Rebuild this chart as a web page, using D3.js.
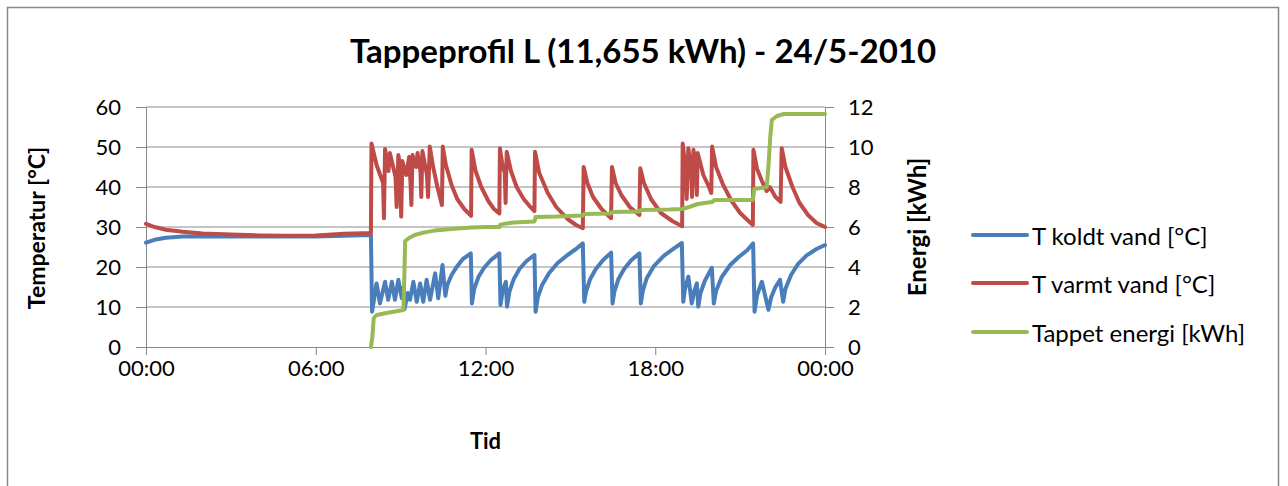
<!DOCTYPE html>
<html><head><meta charset="utf-8">
<script src="https://cdn.jsdelivr.net/npm/d3@7"></script>
<style>
html,body{margin:0;padding:0;background:#fff;}
svg{display:block;}
text{font-family:Lato,"Open Sans",sans-serif;fill:#000;}
</style></head>
<body>
<svg id="c" width="1288" height="486"></svg>
<script>
// ---- data (time in hours of the day) ----
const titleText = "Tappeprofil L (11,655 kWh) - 24/5-2010";
const tidTicks = [0, 6, 12, 18, 24];
const tidLabels = ["00:00", "06:00", "12:00", "18:00", "00:00"];
const tempTicks = [0, 10, 20, 30, 40, 50, 60];
const energiTicks = [0, 2, 4, 6, 8, 10, 12];
const seriesNames = ["T koldt vand [°C]", "T varmt vand [°C]", "Tappet energi [kWh]"];

const koldtVand = [
 [0,26.1],[0.3,26.8],[0.7,27.3],[1.3,27.6],[2,27.7],[4,27.6],[6,27.6],[7,27.8],[7.95,28],
 [7.99,8.8],[8.15,15.9],[8.27,10.9],[8.45,16.3],[8.56,11.8],[8.69,16.3],[8.8,11.8],[8.92,16.8],
 [9.04,12.2],[9.1,15],[9.14,9.5],[9.25,13.5],[9.33,11.8],[9.45,16.3],[9.57,11.3],[9.69,15.9],
 [9.8,11.3],[9.92,16.8],[10.04,11.8],[10.22,18.4],[10.33,12.2],[10.48,20.5],[10.58,12.8],
 [10.65,15.5],[10.8,18],[11,20.2],[11.2,22],[11.48,23.4],[11.52,10.9],[11.6,14.5],[11.75,17.5],
 [11.95,19.8],[12.2,21.8],[12.49,23.4],[12.53,10.5],[12.62,14.5],[12.72,16.3],[12.76,10.1],
 [12.85,14],[13,17],[13.2,19.5],[13.45,21.5],[13.73,23],[13.77,8.8],[13.85,12.5],[14,15.5],
 [14.25,18.5],[14.55,21],[14.9,23],[15.2,24.5],[15.44,25.9],[15.49,11.3],[15.56,14],[15.7,17],
 [15.9,19.5],[16.15,21.7],[16.44,23.6],[16.49,10.9],[16.56,14],[16.7,17],[16.9,19.5],
 [17.15,21.7],[17.44,23.4],[17.49,10.9],[17.56,14],[17.7,17.2],[17.95,20.2],[18.3,22.8],
 [18.65,24.6],[18.94,26],[18.99,11.3],[19.05,14.5],[19.17,17.6],[19.29,10.9],[19.38,14],
 [19.47,15.9],[19.52,10.1],[19.6,13.5],[19.75,16.5],[20,19.8],[20.07,10.9],[20.15,14],
 [20.35,17.5],[20.65,20.5],[20.95,22.5],[21.25,24.2],[21.46,25.9],[21.51,8.8],[21.6,13],
 [21.77,16.3],[22,9.3],[22.1,12.5],[22.25,15],[22.41,16.8],[22.52,11.3],[22.6,14.5],
 [22.8,18],[23.05,20.8],[23.35,22.9],[23.7,24.5],[24,25.5]
];

const varmtVand = [
 [0,30.8],[0.3,30],[0.7,29.3],[1.3,28.8],[2,28.4],[3,28.1],[4,27.9],[5,27.8],[6,27.9],[7,28.3],[7.95,28.5],
 [7.97,50.9],[8.15,45.5],[8.38,41],[8.41,32.2],[8.45,49.5],[8.57,44],[8.62,48.5],[8.82,42.5],
 [8.86,35],[8.92,48],[8.99,45],[9.02,32.6],[9.06,46.5],[9.2,43],[9.3,47.5],[9.35,41],[9.38,35.5],
 [9.42,48],[9.55,45],[9.6,48.5],[9.7,44],[9.73,37.5],[9.77,49],[9.93,43],[9.97,37.5],[10.03,50.1],
 [10.15,45],[10.3,40],[10.46,35.5],[10.49,50.1],[10.6,45.5],[10.8,40.5],[11,37],[11.25,34.5],
 [11.49,32.8],[11.51,49.3],[11.65,44],[11.85,40],[12.1,36.5],[12.3,34.5],[12.49,33.4],[12.51,49.7],
 [12.6,45.5],[12.68,43.5],[12.71,36],[12.75,48.8],[12.9,44],[13.1,40],[13.35,37],[13.55,35.3],
 [13.73,34],[13.75,48.8],[13.9,43.5],[14.2,38.5],[14.5,35],[14.9,32],[15.2,30.5],[15.44,29.7],
 [15.47,45],[15.6,41],[15.8,37.5],[16.1,34.5],[16.44,32.2],[16.47,45],[16.6,41],[16.8,38],
 [17.1,35],[17.44,33],[17.47,44.7],[17.6,41],[17.85,37],[18.2,33.5],[18.6,31.5],[18.95,30.2],
 [18.97,50.9],[19.08,44],[19.11,37],[19.17,49.7],[19.27,44],[19.3,37.5],[19.35,49.3],[19.44,44.5],
 [19.47,38],[19.5,48.5],[19.7,43],[19.9,40],[19.98,38.5],[20.01,50.1],[20.15,45],[20.4,40.5],
 [20.7,36.5],[21,33.5],[21.25,31.8],[21.45,30.5],[21.47,49.3],[21.6,44.5],[21.8,41],[21.94,39],
 [22.05,40],[22.25,37.5],[22.43,36.3],[22.47,49.7],[22.6,45],[22.85,40],[23.1,36],[23.4,33],
 [23.7,31],[24,30]
];

const tappetEnergi = [
 [7.95,0],[8,0.5],[8.05,1.45],[8.15,1.6],[8.5,1.7],[8.9,1.8],[9.1,1.85],[9.13,3.5],[9.16,5.3],
 [9.3,5.45],[9.5,5.6],[9.8,5.72],[10.2,5.82],[10.6,5.88],[11,5.92],[11.5,5.97],[12,6],[12.49,6],
 [12.52,6.12],[12.75,6.18],[13,6.22],[13.73,6.27],[13.77,6.5],[14.5,6.52],[15.44,6.58],
 [15.48,6.65],[16.44,6.68],[16.48,6.75],[17.44,6.78],[17.48,6.85],[18.5,6.87],[18.95,6.9],
 [19.2,7],[19.5,7.15],[20,7.25],[20.1,7.35],[21.45,7.35],[21.5,7.9],[21.94,8],[22,9],
 [22.06,10.4],[22.12,11.35],[22.3,11.55],[22.55,11.65],[24,11.655]
];

const colors = ["#4A7EBB", "#BE4B48", "#98B954"];

// ---- drawing ----
const svg = d3.select("#c");
svg.append("rect").attr("x",7.5).attr("y",7.5).attr("width",1271).attr("height",520)
  .attr("fill","#fff").attr("stroke","#868686").attr("stroke-width",1.5);

const x = d3.scaleLinear().domain([0,24]).range([146,825]);
const yT = d3.scaleLinear().domain([0,60]).range([347,107]);
const yE = d3.scaleLinear().domain([0,12]).range([347,107]);

// gridlines
svg.append("g").selectAll("line").data(tempTicks.filter(d=>d>0)).join("line")
  .attr("x1",x(0)).attr("x2",x(24)).attr("y1",d=>yT(d)).attr("y2",d=>yT(d))
  .attr("stroke","#8c8c8c").attr("stroke-width",1);

function styleAxis(g){
  g.select(".domain").attr("stroke","#868686").attr("stroke-width",1);
  g.selectAll(".tick line").attr("stroke","#868686");
  g.selectAll(".tick text").attr("font-size",22).attr("font-family","Lato").attr("fill","#000");
}

svg.append("g").attr("transform",`translate(${x(0)},0)`)
  .call(d3.axisLeft(yT).tickValues(tempTicks).tickSize(10).tickSizeOuter(0).tickPadding(15))
  .call(styleAxis);
svg.append("g").attr("transform",`translate(${x(24)},0)`)
  .call(d3.axisRight(yE).tickValues(energiTicks).tickSize(9).tickSizeOuter(0).tickPadding(14))
  .call(styleAxis);
svg.append("g").attr("transform",`translate(0,${yT(0)})`)
  .call(d3.axisBottom(x).tickValues(tidTicks).tickFormat((d,i)=>tidLabels[i]).tickSize(8).tickSizeOuter(0).tickPadding(5))
  .call(styleAxis);

// series
const lineT = d3.line().x(d=>x(d[0])).y(d=>yT(d[1]));
const lineE = d3.line().x(d=>x(d[0])).y(d=>yE(d[1]));
[[koldtVand,lineT,0],[varmtVand,lineT,1],[tappetEnergi,lineE,2]].forEach(([data,gen,i])=>{
  svg.append("path").datum(data).attr("d",gen).attr("fill","none")
    .attr("stroke",colors[i]).attr("stroke-width",4)
    .attr("stroke-linejoin","round").attr("stroke-linecap","round");
});

// titles
svg.append("text").attr("x",643).attr("y",63).attr("text-anchor","middle")
  .attr("font-size",33).attr("font-weight","bold").text(titleText);
svg.append("text").attr("transform","translate(36,228) rotate(-90)").attr("text-anchor","middle")
  .attr("dominant-baseline","central").attr("font-size",23).attr("font-weight","bold").text("Temperatur [°C]");
svg.append("text").attr("transform","translate(916,227) rotate(-90)").attr("text-anchor","middle")
  .attr("dominant-baseline","central").attr("font-size",24).attr("font-weight","bold").text("Energi [kWh]");
svg.append("text").attr("x",485.5).attr("y",449).attr("text-anchor","middle")
  .attr("font-size",22).attr("font-weight","bold").text("Tid");

// legend
const legY = [235, 283, 332];
const leg = svg.append("g").selectAll("g").data(seriesNames).join("g")
  .attr("transform",(d,i)=>`translate(0,${legY[i]})`);
leg.append("line").attr("x1",973).attr("x2",1027).attr("stroke",(d,i)=>colors[i])
  .attr("stroke-width",4).attr("stroke-linecap","round");
leg.append("text").attr("x",1032).attr("dominant-baseline","central").attr("font-size",24).text(d=>d);
</script>
</body></html>
